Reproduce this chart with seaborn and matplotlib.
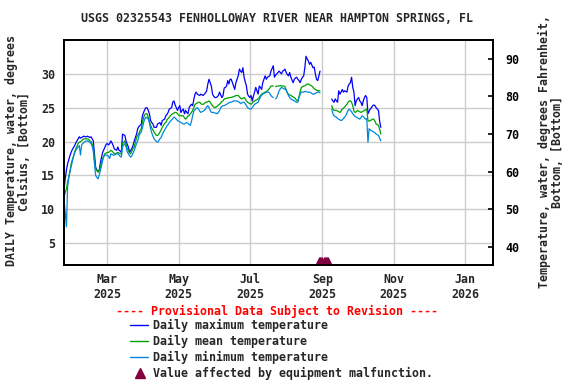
import numpy as np
import pandas as pd
import matplotlib
matplotlib.use("Agg")
import matplotlib.pyplot as plt
import matplotlib.dates as mdates
from matplotlib.lines import Line2D
import seaborn as sns

nan = np.nan

# ---------------- data ----------------
title = "USGS 02325543 FENHOLLOWAY RIVER NEAR HAMPTON SPRINGS, FL"
left_label = "DAILY Temperature, water, degrees\nCelsius, [Bottom]"
right_label = "Temperature, water, degrees Fahrenheit,\nBottom, [Bottom]"
provisional = "---- Provisional Data Subject to Revision ----"
legend_labels = ["Daily maximum temperature", "Daily mean temperature",
                 "Daily minimum temperature", "Value affected by equipment malfunction."]

seg1_start = "2025-01-23"
seg2_start = "2025-09-09"

max1 = [
    13.0, 14.5, 15.8, 16.7, 17.3, 17.9, 18.4, 18.8, 19.1, 19.4,
    19.8, 20.1, 20.4, 20.7, 20.5, 20.6, 20.7, 20.8, 20.7, 20.7,
    20.8, 20.7, 20.6, 20.7, 20.4, 20.1, 18.2, 16.2, 15.8, 15.5,
    15.7, 16.8, 17.7, 18.4, 18.8, 19.2, 19.6, 19.7, 19.5, 19.7,
    20.1, 19.8, 19.4, 18.9, 18.8, 18.7, 19.2, 18.7, 18.6, 18.4,
    21.1, 21.0, 20.9, 20.1, 19.6, 19.2, 18.4, 18.7, 19.0, 19.4,
    20.1, 20.6, 21.1, 21.9, 22.2, 22.4, 22.5, 23.8, 24.3, 24.7,
    25.0, 25.0, 24.6, 24.1, 23.1, 22.8, 22.6, 22.1, 22.1, 22.1,
    22.6, 22.7, 22.8, 22.4, 23.1, 23.2, 23.3, 23.8, 24.0, 24.3,
    24.8, 24.9, 25.0, 25.8, 26.0, 25.4, 25.0, 24.6, 25.0, 25.3,
    24.3, 24.6, 24.8, 24.1, 24.6, 24.3, 24.1, 25.0, 25.3, 25.5,
    25.3, 26.2, 27.0, 27.3, 27.0, 26.9, 26.8, 27.0, 26.9, 26.8,
    27.0, 27.2, 27.5, 28.5, 29.2, 28.7, 28.2, 27.0, 26.7, 26.5,
    26.5, 26.6, 26.8, 27.3, 26.9, 26.5, 26.8, 27.9, 28.0, 28.2,
    29.0, 28.5, 29.2, 29.2, 28.7, 28.2, 27.7, 28.7, 29.2, 29.7,
    30.7, 30.4, 30.2, 30.9, 29.5, 28.8, 28.2, 27.0, 26.7, 26.5,
    26.8, 26.0, 26.7, 27.3, 28.0, 27.5, 27.0, 28.2, 28.0, 27.7,
    28.7, 29.2, 29.7, 29.2, 29.5, 29.6, 29.7, 30.4, 30.8, 31.2,
    29.5, 29.8, 30.0, 30.2, 30.4, 30.2, 30.0, 30.4, 30.5, 30.7,
    30.2, 29.9, 29.7, 30.2, 29.5, 29.1, 28.7, 29.2, 29.4, 29.5,
    29.2, 29.0, 28.7, 29.2, 29.5, 29.7, 30.9, 32.6, 32.2, 31.9,
    31.4, 31.7, 31.3, 30.9, 31.0, 30.0, 29.2, 29.0, 29.7, 30.4,
]
mean1 = [
    11.8, 12.5, 13.0, 14.0, 14.8, 15.5, 16.7, 17.3, 17.8, 18.5,
    18.9, 19.3, 19.7, 19.9, 20.0, 20.1, 20.3, 20.4, 20.4, 20.4,
    20.4, 20.3, 20.1, 20.0, 19.6, 19.2, 17.2, 16.0, 15.7, 15.5,
    15.8, 16.2, 17.0, 17.5, 17.9, 18.2, 18.3, 18.4, 18.4, 18.5,
    18.7, 18.6, 18.4, 18.2, 18.2, 18.3, 18.4, 18.3, 18.2, 18.2,
    19.7, 19.9, 20.1, 19.6, 19.0, 18.7, 18.3, 18.2, 18.6, 19.0,
    19.2, 19.9, 20.6, 20.9, 21.2, 21.6, 21.9, 22.8, 23.5, 24.0,
    24.1, 24.1, 23.6, 23.0, 22.4, 22.0, 21.7, 21.4, 21.1, 20.9,
    20.9, 21.1, 21.4, 21.7, 22.1, 22.4, 22.7, 22.8, 23.2, 23.4,
    23.6, 23.8, 24.0, 24.1, 24.2, 24.3, 24.3, 24.1, 23.9, 23.8,
    23.8, 23.8, 23.8, 23.5, 23.3, 23.5, 23.8, 23.8, 24.1, 24.3,
    24.6, 25.0, 25.5, 25.6, 25.7, 25.8, 25.8, 25.6, 25.5, 25.5,
    25.6, 25.8, 25.8, 25.9, 26.0, 25.8, 25.5, 25.3, 25.1, 25.0,
    25.1, 25.2, 25.4, 25.5, 25.7, 25.9, 26.0, 26.3, 26.3, 26.4,
    26.4, 26.5, 26.5, 26.5, 26.6, 26.6, 26.7, 26.8, 26.8, 26.8,
    26.6, 26.4, 26.3, 26.4, 26.5, 26.3, 26.0, 25.8, 25.7, 25.6,
    25.5, 25.7, 25.9, 26.0, 26.1, 26.2, 26.3, 26.5, 26.8, 27.0,
    27.1, 27.2, 27.3, 27.4, 27.5, 27.7, 27.9, 28.2, 28.2, 28.2,
    nan, 28.1, 28.2, 28.2, 28.2, 28.3, 28.2, 28.2, 28.2, 28.1,
    27.6, 27.2, 27.0, 26.9, 26.8, 26.7, 26.6, 26.5, 26.3, 26.1,
    26.0, 26.6, 27.4, 28.0, 28.1, 28.2, 28.2, 28.4, 28.5, 28.5,
    28.4, 28.3, 28.2, 28.0, 27.8, 27.7, 27.6, 27.5, 27.5, 27.5,
]
min1 = [
    11.1, 9.5, 7.4, 13.3, 14.6, 15.6, 16.3, 17.0, 17.8, 18.3,
    18.7, 19.0, 19.2, 19.4, 18.0, 19.5, 19.7, 19.9, 20.0, 20.1,
    20.1, 20.0, 19.9, 19.7, 19.3, 18.5, 16.7, 15.0, 14.7, 14.5,
    15.0, 15.7, 16.4, 17.2, 17.8, 18.0, 18.0, 18.0, 17.8, 17.5,
    18.2, 18.1, 18.0, 18.0, 18.1, 18.2, 18.2, 18.0, 17.8, 17.7,
    19.2, 19.5, 19.7, 19.2, 18.5, 18.2, 17.9, 17.7, 17.9, 18.3,
    18.7, 19.2, 19.7, 20.1, 20.8, 21.2, 21.4, 22.0, 22.8, 23.3,
    23.6, 23.5, 23.3, 22.8, 21.9, 21.3, 20.8, 20.4, 20.2, 20.0,
    19.9, 20.1, 20.4, 20.6, 21.0, 21.4, 21.7, 22.0, 22.3, 22.5,
    22.8, 23.0, 23.2, 23.4, 23.6, 23.5, 23.3, 23.1, 23.0, 22.9,
    22.8, 22.7, 22.6, 22.6, 22.7, 22.8, 22.7, 22.5, 22.4, 23.0,
    23.8, 24.5, 24.7, 24.9, 25.0, 24.8, 24.5, 24.3, 24.4, 24.5,
    24.6, 24.8, 25.1, 25.3, 25.0, 24.6, 24.3, 24.3, 24.3, 24.2,
    24.2, 24.1, 24.3, 24.6, 25.0, 25.2, 25.3, 25.3, 25.4, 25.5,
    25.6, 25.7, 25.8, 25.8, 25.9, 26.0, 26.0, 26.0, 26.0, 25.9,
    25.8, 25.6, 25.7, 25.8, 25.8, 25.6, 25.3, 25.0, 24.9, 24.8,
    24.8, 25.0, 25.3, 25.5, 25.6, 25.7, 25.8, 26.2, 26.6, 26.8,
    27.0, 27.1, 27.2, 27.3, 27.3, 27.3, 27.1, 26.8, 26.6, 26.5,
    nan, 26.3, 26.5, 27.0, 27.5, 27.8, 28.0, 27.9, 27.8, 27.7,
    27.7, 27.2, 26.8, 26.5, 26.3, 26.2, 26.1, 26.0, 25.9, 25.8,
    25.8, 26.5, 27.0, 27.3, 27.3, 27.3, 27.4, 27.4, 27.3, 27.3,
    27.3, 27.2, 27.1, 27.0, 27.0, 27.1, 27.2, 27.3, 27.3, 27.2,
]

max2 = [
    26.3, 26.0, 25.8, 26.3, 26.0, 25.8, 27.5, 27.0, 27.3, 27.7,
    27.3, 27.5, 27.4, 27.3, 28.2, 28.5, 28.7, 29.5, 28.0, 27.3,
    25.3, 26.0, 26.3, 26.5, 26.0, 25.8, 25.3, 26.0, 26.5, 26.8,
    26.5, 24.1, 24.5, 24.8, 25.0, 25.3, 25.4, 25.3, 25.0, 24.8,
    24.6, 23.0, 22.1,
]
mean2 = [
    25.3, 24.8, 24.6, 24.6, 24.6, 24.5, 24.4, 24.3, 24.5, 24.8,
    24.9, 25.1, 25.3, 25.5, 25.8, 26.0, 26.0, 25.8, 25.3, 24.5,
    24.3, 24.4, 24.6, 24.5, 24.4, 24.3, 24.4, 24.5, 24.6, 24.7,
    24.8, 23.1, 23.0, 23.1, 23.2, 23.3, 23.3, 23.0, 22.6, 22.5,
    22.4, 21.8, 21.1,
]
min2 = [
    24.8, 24.1, 23.8, 23.7, 23.6, 23.4, 23.3, 23.2, 23.1, 23.2,
    23.4, 23.6, 23.8, 24.2, 24.6, 24.8, 24.6, 24.4, 24.1, 23.9,
    23.7, 23.6, 23.5, 23.4, 23.3, 23.5, 23.8, 23.7, 23.5, 23.3,
    23.4, 19.9, 21.9, 21.7, 21.6, 21.5, 21.4, 21.3, 21.1, 21.0,
    20.9, 20.5, 20.1,
]

malfunction_dates = ["2025-08-29", "2025-08-30", "2025-08-31", "2025-09-01", "2025-09-02",
                     "2025-09-03", "2025-09-04", "2025-09-05", "2025-09-06"]
malfunction_value = 2.4

yticks_c = [5, 10, 15, 20, 25, 30]
yticks_f = [40, 50, 60, 70, 80, 90]
month_ticks = [1, 3, 5, 7, 9, 11]

# ---------------- style ----------------
sns.set_style("white")
plt.rcParams["font.family"] = ["DejaVu Sans Mono"]
plt.rcParams["font.weight"] = "bold"
FS = 8.4
C_MAX, C_MEAN, C_MIN, C_MAL = "#0000ff", "#00a000", "#0088dd", "#800040"

W, H = 576, 384
fig = plt.figure(figsize=(W / 100, H / 100), dpi=100)
L, R, T, B = 64, 493, 40, 265
ax = fig.add_axes([L / W, 1 - B / H, (R - L) / W, (B - T) / H])


def frame(values, start):
    return pd.DataFrame({"date": pd.date_range(start, periods=len(values), freq="D"),
                         "value": values})


series = [(max1, max2, C_MAX), (mean1, mean2, C_MEAN), (min1, min2, C_MIN)]
for v1, v2, color in series:
    for vals, start in ((v1, seg1_start), (v2, seg2_start)):
        df = frame(vals, start)
        ok = df["value"].notna()
        run = df["value"].isna().cumsum()
        for _, g in df[ok].groupby(run[ok]):
            sns.lineplot(data=g, x="date", y="value", color=color, lw=0.9,
                         estimator=None, sort=False, ax=ax)

mal = pd.DataFrame({"date": pd.to_datetime(malfunction_dates),
                    "value": [malfunction_value] * len(malfunction_dates)})
sns.scatterplot(data=mal, x="date", y="value", marker="^", color=C_MAL, s=44,
                linewidth=0, ax=ax, zorder=5)

ylo, yhi = 1.76, 35.0
ax.set_xlim(pd.Timestamp("2025-01-22 22:00"), pd.Timestamp("2026-01-25"))
ax.set_ylim(ylo, yhi)
ax.set_yticks(yticks_c)
ax.xaxis.set_major_locator(mdates.MonthLocator(bymonth=month_ticks))
ax.xaxis.set_major_formatter(mdates.DateFormatter("%b\n%Y"))
ax.set_xlabel("")
ax.set_ylabel("")
ax.grid(True, color="#cccccc", lw=1.0)
ax.set_axisbelow(True)
ax.tick_params(axis="x", length=0, pad=6, labelsize=FS)
ax.tick_params(axis="y", length=0, pad=6.5, labelsize=FS)
for lab in ax.get_xticklabels() + ax.get_yticklabels():
    lab.set_fontweight("bold")
for s in ax.spines.values():
    s.set_color("black")
    s.set_linewidth(1.3)

ax2 = ax.twinx()
ax2.set_ylim(ylo * 1.8 + 32, yhi * 1.8 + 32)
ax2.set_yticks(yticks_f)
ax2.tick_params(axis="y", which="both", direction="in", length=3.5, width=1.2, pad=9,
                labelsize=FS, colors="black", right=True)
for lab in ax2.get_yticklabels():
    lab.set_fontweight("bold")
for s in ax2.spines.values():
    s.set_color("black")
    s.set_linewidth(1.3)

# ---------------- texts ----------------
fig.text(277 / W, 1 - 19 / H, title, ha="center", va="center", fontsize=FS, weight="bold")
fig.text(18 / W, 1 - 151 / H, left_label, rotation=90, ha="center", va="center",
         multialignment="center", fontsize=FS, weight="bold", linespacing=1.05)
fig.text(551 / W, 1 - 152 / H, right_label, rotation=90, ha="center", va="center",
         multialignment="center", fontsize=FS, weight="bold", linespacing=1.05)
fig.text(277.5 / W, 1 - 311 / H, provisional, ha="center", va="center", color="#ff0000",
         fontsize=FS, weight="bold")

rows = [325, 341, 357, 373]
for y, lab, c in zip(rows[:3], legend_labels[:3], [C_MAX, C_MEAN, C_MIN]):
    fig.add_artist(Line2D([130 / W, 148 / W], [1 - y / H] * 2, color=c, lw=1.0,
                          transform=fig.transFigure))
    fig.text(153 / W, 1 - y / H, lab, ha="left", va="center", fontsize=FS, weight="bold")
fig.add_artist(Line2D([140 / W], [1 - rows[3] / H], marker="^", ms=7, color=C_MAL,
                      linestyle="none", transform=fig.transFigure))
fig.text(153 / W, 1 - rows[3] / H, legend_labels[3], ha="left", va="center",
         fontsize=FS, weight="bold")

fig.savefig("out.png", dpi=100)
